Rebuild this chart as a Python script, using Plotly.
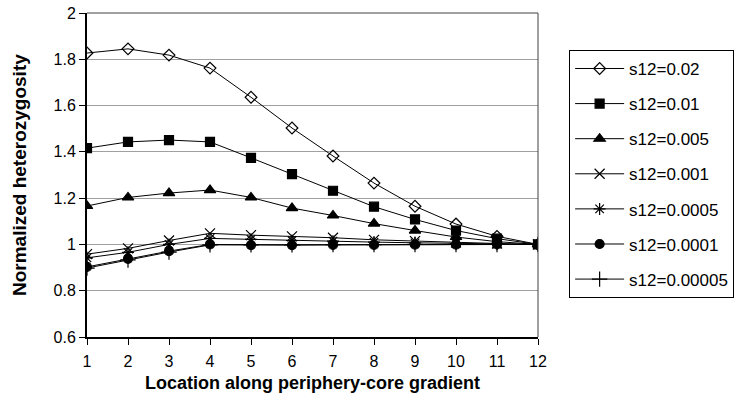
import plotly.graph_objects as go

locations = [1, 2, 3, 4, 5, 6, 7, 8, 9, 10, 11, 12]
series_names = ["s12=0.02", "s12=0.01", "s12=0.005", "s12=0.001",
                "s12=0.0005", "s12=0.0001", "s12=0.00005"]
s_002 = [1.827, 1.845, 1.818, 1.762, 1.636, 1.503, 1.382, 1.265, 1.165, 1.088, 1.035, 1.0]
s_001 = [1.416, 1.443, 1.451, 1.443, 1.374, 1.304, 1.232, 1.163, 1.108, 1.060, 1.025, 1.0]
s_0005 = [1.166, 1.203, 1.222, 1.235, 1.203, 1.157, 1.125, 1.090, 1.060, 1.032, 1.012, 1.0]
s_0001 = [0.958, 0.983, 1.017, 1.048, 1.040, 1.035, 1.029, 1.020, 1.014, 1.009, 1.004, 1.0]
s_00005 = [0.942, 0.966, 1.0, 1.026, 1.022, 1.017, 1.014, 1.010, 1.007, 1.004, 1.002, 1.0]
s_00001 = [0.903, 0.938, 0.971, 1.0, 0.997, 0.997, 0.998, 0.998, 0.999, 0.999, 1.0, 1.0]
s_000005 = [0.898, 0.933, 0.967, 0.998, 0.998, 0.998, 0.999, 0.999, 1.0, 1.0, 1.0, 1.0]
y_ticks = [0.6, 0.8, 1.0, 1.2, 1.4, 1.6, 1.8, 2.0]
y_tick_labels = ["0.6", "0.8", "1", "1.2", "1.4", "1.6", "1.8", "2"]
x_title = "Location along periphery-core gradient"
y_title = "Normalized heterozygosity"

all_series = [s_002, s_001, s_0005, s_0001, s_00005, s_00001, s_000005]
symbols = ["diamond-open", "square", "triangle-up", "x-thin-open",
           "asterisk-open", "circle", "cross-thin-open"]
sizes = [9, 9, 10, 10, 10, 9, 11]

FONT = "Liberation Sans, Arial, sans-serif"
fig = go.Figure()
for i, (name, vals) in enumerate(zip(series_names, all_series)):
    fig.add_trace(go.Scatter(
        x=locations, y=vals, name=name, mode="lines+markers",
        legendgroup=f"g{i}",
        line=dict(color="black", width=1),
        marker=dict(symbol=symbols[i], size=sizes[i], color="black",
                    line=dict(color="black", width=1.2)),
    ))

fig.update_layout(
    width=740, height=404,
    margin=dict(l=87, r=202, t=13, b=67, autoexpand=False),
    paper_bgcolor="white", plot_bgcolor="white",
    font=dict(family=FONT, size=16, color="black"),
    showlegend=True,
    legend=dict(
        x=1.069, xanchor="left", y=0.886, yanchor="top",
        bordercolor="black", borderwidth=1, bgcolor="white",
        font=dict(family=FONT, size=17, color="black"),
        traceorder="grouped", tracegroupgap=10,
        itemwidth=49,
    ),
    xaxis=dict(
        range=[1, 12], tickmode="array", tickvals=locations,
        ticktext=[str(v) for v in locations],
        showgrid=False, showline=True, linecolor="black", linewidth=2,
        ticks="outside", ticklen=6, tickcolor="black", zeroline=False,
        automargin=False, ticklabelstandoff=3, ticklabeloverflow="allow",
        tickfont=dict(family=FONT, size=16),
    ),
    yaxis=dict(
        range=[0.6, 2.0], tickmode="array", tickvals=y_ticks,
        ticktext=y_tick_labels,
        showgrid=True, gridcolor="#a0a0a0", gridwidth=1,
        showline=True, linecolor="black", linewidth=2,
        ticks="outside", ticklen=6, tickcolor="black", zeroline=False,
        automargin=False, ticklabeloverflow="allow",
        tickfont=dict(family=FONT, size=16),
    ),
    annotations=[
        dict(text=f"<b>{x_title}</b>", xref="paper", yref="paper",
             x=0.5, y=-0.142, xanchor="center", yanchor="middle",
             showarrow=False,
             font=dict(family=FONT, size=18, color="black")),
        dict(text=f"<b>{y_title}</b>", xref="paper", yref="paper",
             x=0, xshift=-68, y=0.5, xanchor="center", yanchor="middle",
             textangle=-90, showarrow=False,
             font=dict(family=FONT, size=19, color="black")),
    ],
    shapes=[
        dict(type="line", xref="paper", yref="paper", x0=0, x1=1, y0=1, y1=1,
             line=dict(color="#404040", width=1)),
        dict(type="line", xref="paper", yref="paper", x0=1, x1=1, y0=0, y1=1,
             line=dict(color="#404040", width=1)),
    ],
)

fig.write_html("out.html", config={"displayModeBar": False},
               post_script="document.body.style.margin='0';")
